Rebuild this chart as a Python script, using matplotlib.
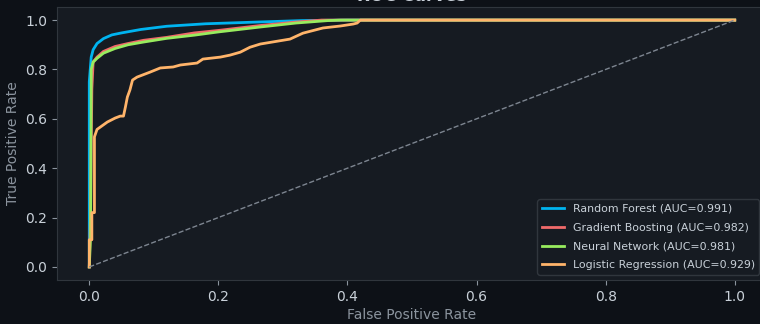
import matplotlib.pyplot as plt

# ROC points read per model: false positive rate / true positive rate
rf_fpr = [0, 0, 0.003, 0.006, 0.012, 0.022, 0.035, 0.05, 0.08, 0.12, 0.18, 0.26, 0.33, 0.40, 1.0]
rf_tpr = [0, 0.75, 0.85, 0.88, 0.905, 0.925, 0.94, 0.948, 0.962, 0.975, 0.985, 0.992, 0.998, 1.0, 1.0]

gb_fpr = [0, 0.002, 0.004, 0.006, 0.012, 0.022, 0.04, 0.06, 0.084, 0.12, 0.163, 0.2, 0.265, 0.32, 0.36, 1.0]
gb_tpr = [0, 0.22, 0.72, 0.83, 0.85, 0.873, 0.893, 0.905, 0.918, 0.93, 0.948, 0.958, 0.978, 0.992, 1.0, 1.0]

nn_fpr = [0, 0.002, 0.003, 0.006, 0.012, 0.022, 0.04, 0.06, 0.084, 0.12, 0.163, 0.2, 0.265, 0.32, 0.37, 0.39, 1.0]
nn_tpr = [0, 0.12, 0.8, 0.83, 0.845, 0.866, 0.885, 0.9, 0.911, 0.926, 0.939, 0.952, 0.972, 0.988, 0.998, 1.0, 1.0]

lr_fpr = [0, 0, 0.004, 0.004, 0.008, 0.008, 0.012, 0.028, 0.04, 0.048, 0.053, 0.056, 0.059, 0.063, 0.067,
          0.074, 0.094, 0.11, 0.13, 0.141, 0.167, 0.176, 0.203, 0.218, 0.234, 0.249, 0.265, 0.311, 0.331,
          0.362, 0.389, 0.409, 0.415, 0.42, 1.0]
lr_tpr = [0, 0.11, 0.11, 0.22, 0.22, 0.527, 0.557, 0.587, 0.603, 0.611, 0.611, 0.648, 0.688, 0.717, 0.757,
          0.769, 0.789, 0.806, 0.81, 0.818, 0.826, 0.842, 0.85, 0.858, 0.87, 0.89, 0.903, 0.923, 0.947,
          0.968, 0.976, 0.984, 0.988, 1.0, 1.0]

models = ["Random Forest", "Gradient Boosting", "Neural Network", "Logistic Regression"]
aucs = [0.991, 0.982, 0.981, 0.929]
colors = ["#00b4f0", "#f06a6a", "#98ec5e", "#ffb46a"]

BG = "#0d1117"
PANEL = "#161b22"
EDGE = "#30363d"
TXT = "#c9d1d9"
MUTED = "#8b949e"

fig = plt.figure(figsize=(7.6, 3.24), dpi=100, facecolor=BG)
ax = fig.add_axes([57/760, 44/324, 710/760, 273/324])
ax.set_facecolor(PANEL)

curves = [(rf_fpr, rf_tpr), (gb_fpr, gb_tpr), (nn_fpr, nn_tpr), (lr_fpr, lr_tpr)]
for (f, t), name, auc, c in zip(curves, models, aucs, colors):
    ax.plot(f, t, color=c, lw=2, label=f"{name} (AUC={auc:.3f})")
ax.plot([0, 1], [0, 1], ls="--", color="#7d8590", lw=1)

ax.set_xlim(-0.05, 1.05)
ax.set_ylim(-0.053, 1.053)
ax.set_xlabel("False Positive Rate", color=MUTED, fontsize=10, labelpad=3)
ax.set_ylabel("True Positive Rate", color=MUTED, fontsize=10)
ax.set_title("ROC Curves", color=TXT, fontsize=12, fontweight="bold", pad=4.5)
ax.tick_params(colors=TXT, labelsize=10)
ax.tick_params(color=MUTED)
for s in ax.spines.values():
    s.set_color(EDGE)

leg = ax.legend(loc="lower right", fontsize=7.9, facecolor=PANEL, edgecolor=EDGE,
                labelcolor=TXT, framealpha=1, labelspacing=0.8,
                bbox_to_anchor=(0.9966, 0.0))
leg.get_frame().set_linewidth(1)

fig.savefig("out.png", dpi=100, facecolor=BG)
